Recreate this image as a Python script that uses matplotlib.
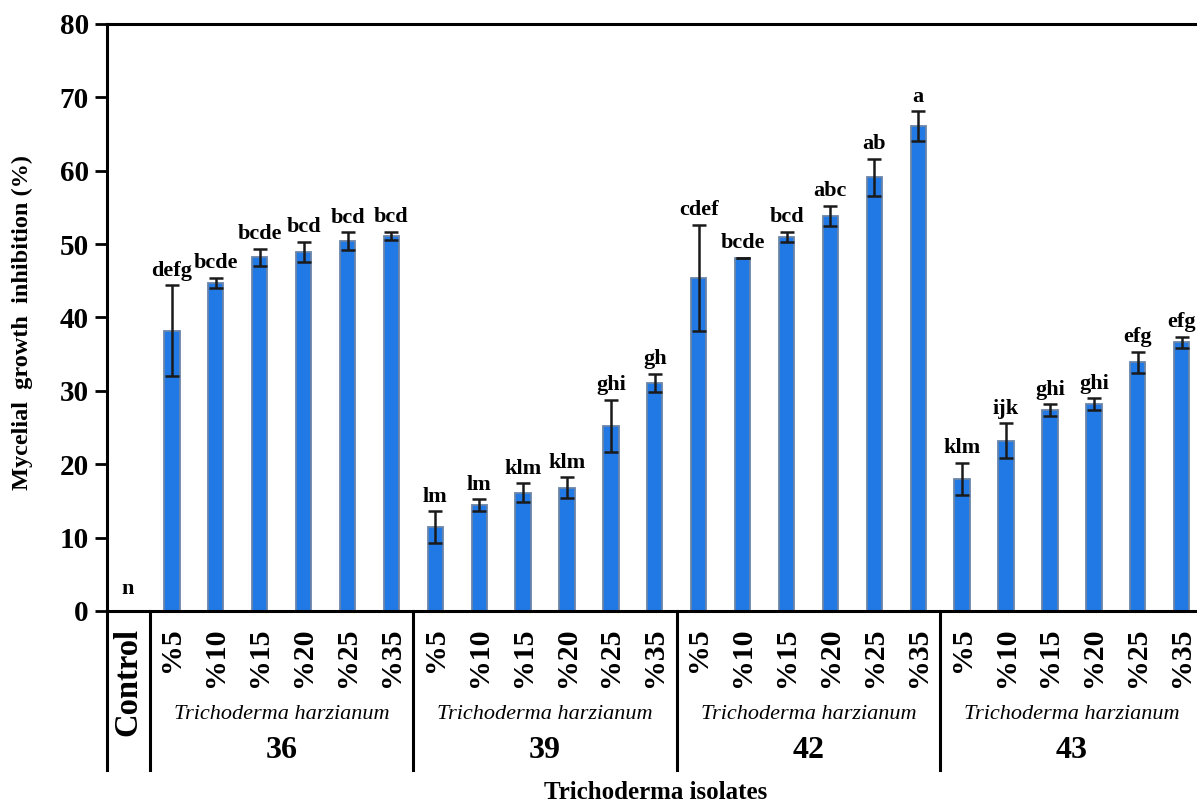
import numpy as np
import matplotlib.pyplot as plt

plt.rcParams['font.family'] = ['Liberation Serif', 'DejaVu Serif']

# ── Data: mycelial growth inhibition (%) ───────────────────
isolates = ['36', '39', '42', '43']
concentrations = ['%5', '%10', '%15', '%20', '%25', '%35']

control_mean = 0.0
control_err = 0.0
control_letter = 'n'

means_36 = [38.2, 44.7, 48.2, 48.9, 50.4, 51.1]
err_36 = [6.2, 0.7, 1.2, 1.4, 1.2, 0.6]
letters_36 = ['defg', 'bcde', 'bcde', 'bcd', 'bcd', 'bcd']

means_39 = [11.4, 14.4, 16.1, 16.8, 25.2, 31.1]
err_39 = [2.2, 0.8, 1.3, 1.4, 3.6, 1.2]
letters_39 = ['lm', 'lm', 'klm', 'klm', 'ghi', 'gh']

means_42 = [45.4, 48.1, 51.0, 53.8, 59.1, 66.1]
err_42 = [7.2, 0.05, 0.7, 1.4, 2.5, 2.0]
letters_42 = ['cdef', 'bcde', 'bcd', 'abc', 'ab', 'a']

means_43 = [18.0, 23.2, 27.4, 28.2, 33.9, 36.6]
err_43 = [2.2, 2.4, 0.8, 0.8, 1.4, 0.8]
letters_43 = ['klm', 'ijk', 'ghi', 'ghi', 'efg', 'efg']

means = [control_mean] + means_36 + means_39 + means_42 + means_43
errs = [control_err] + err_36 + err_39 + err_42 + err_43
letters = [control_letter] + letters_36 + letters_39 + letters_42 + letters_43
tick_labels = ['Control'] + concentrations * len(isolates)

x = np.arange(len(means))

# ── Plot ───────────────────────────────────────────────────
fig = plt.figure(figsize=(11.97, 8.02), dpi=100)
ax = fig.add_axes([0.0894, 0.2382, 0.9106, 0.7319])

ax.bar(x, means, width=0.35, color='#2079e4', edgecolor='#6b85a8',
       linewidth=1.3, zorder=2)
ax.errorbar(x[1:], means[1:], yerr=errs[1:], fmt='none', ecolor='#1a1a1a',
            elinewidth=1.8, capsize=4.7, capthick=1.8, zorder=3)

# significance letters above each bar
for xi, m, e, lab in zip(x, means, errs, letters):
    off = 2.3 if m == 0 else 1.3
    ax.text(xi, m + e + off, lab, ha='center', va='baseline',
            fontsize=16, fontweight='bold')

ax.set_xlim(-0.478, 24.35)
ax.set_ylim(0, 80)
ax.set_yticks(np.arange(0, 81, 10))
ax.tick_params(axis='y', direction='out', length=9, width=2,
               labelsize=21, pad=4)
for t in ax.get_yticklabels():
    t.set_fontweight('bold')

ax.set_xticks(x)
ax.set_xticklabels(tick_labels, rotation=90, fontsize=21.5, fontweight='bold')
ax.get_xticklabels()[0].set_fontsize(23.5)
ax.tick_params(axis='x', length=0, pad=12)

for side in ['left', 'top', 'bottom']:
    ax.spines[side].set_linewidth(2.2)
ax.spines['right'].set_visible(False)

# group separators below the axis
trans = ax.get_xaxis_transform()
for sx in [-0.478, 0.5, 6.5, 12.5, 18.5]:
    ax.plot([sx, sx], [0, -0.271], color='black', lw=2.2,
            transform=trans, clip_on=False)

for i, iso in enumerate(isolates):
    cx = 1 + 6 * i + 2.5
    ax.text(cx, -0.177, 'Trichoderma harzianum', transform=trans,
            ha='center', va='center', fontsize=16, style='italic')
    ax.text(cx, -0.237, iso, transform=trans, ha='center', va='center',
            fontsize=23, fontweight='bold')

fig.text(0.548, 0.012, 'Trichoderma isolates', ha='center', va='center',
         fontsize=18, fontweight='bold')
fig.text(0.019, 0.598, 'Mycelial  growth  inhibition (%)', rotation=90,
         ha='center', va='center', fontsize=17.5, fontweight='bold')

fig.savefig('out.png', dpi=100)
